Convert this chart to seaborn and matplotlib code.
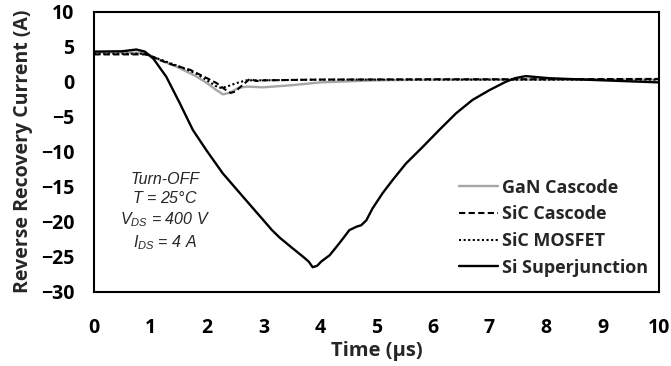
import matplotlib
matplotlib.use("Agg")
import matplotlib.pyplot as plt
import seaborn as sns
import pandas as pd

# Reverse recovery current waveforms at turn-off
t_gan = [0.0, 0.5, 0.9, 1.0, 1.2, 1.5, 1.8, 2.0, 2.15, 2.28, 2.4, 2.55, 2.7, 3.0, 3.5, 4.0, 5.0, 6.0, 8.0, 10.0]
i_gan = [4.2, 4.2, 4.1, 3.7, 3.0, 2.0, 0.8, -0.2, -1.1, -1.8, -1.6, -0.9, -0.7, -0.8, -0.5, -0.1, 0.2, 0.3, 0.3, 0.3]

t_sic_cas = [0.0, 0.5, 0.9, 1.0, 1.16, 1.4, 1.7, 2.0, 2.17, 2.3, 2.42, 2.5, 2.64, 2.76, 2.87, 3.0, 4.0, 6.0, 8.0, 10.0]
i_sic_cas = [3.9, 3.9, 3.9, 3.7, 3.1, 2.4, 1.7, 0.5, -0.2, -1.0, -1.6, -1.4, -0.4, 0.4, 0.1, 0.2, 0.3, 0.35, 0.35, 0.4]

t_sic_mos = [0.0, 0.5, 0.9, 1.0, 1.2, 1.5, 1.8, 2.0, 2.15, 2.25, 2.35, 2.52, 2.7, 3.0, 4.0, 6.0, 8.0, 10.0]
i_sic_mos = [4.0, 4.0, 4.0, 3.7, 3.1, 2.2, 1.2, 0.2, -0.6, -0.9, -0.7, -0.2, 0.2, 0.2, 0.3, 0.3, 0.3, 0.3]

t_si_sj = [0.0, 0.5, 0.75, 0.9, 1.05, 1.28, 1.52, 1.75, 1.99, 2.28, 2.58, 2.87, 3.0, 3.15, 3.29, 3.5, 3.70, 3.80,
           3.87, 3.95, 4.02, 4.17, 4.35, 4.52, 4.65, 4.73, 4.82, 4.93, 5.11, 5.29, 5.52, 5.82, 6.11, 6.41,
           6.70, 7.00, 7.29, 7.45, 7.64, 8.06, 9.0, 10.0]
i_si_sj = [4.3, 4.35, 4.6, 4.3, 3.3, 0.7, -3.1, -6.9, -9.8, -13.1, -15.9, -18.6, -19.8, -21.2, -22.3, -23.7, -25.0, -25.7,
           -26.5, -26.3, -25.7, -24.8, -23.0, -21.2, -20.7, -20.5, -19.8, -18.1, -15.9, -14.0, -11.7, -9.3, -6.9, -4.5,
           -2.6, -1.2, 0.0, 0.5, 0.8, 0.5, 0.2, -0.1]

series_names = ["GaN Cascode", "SiC Cascode", "SiC MOSFET", "Si Superjunction"]

x_ticks = list(range(0, 11))
y_ticks = list(range(-30, 11, 5))

sns.set_theme(style="white")
plt.rcParams["font.family"] = ["Open Sans", "DejaVu Sans"]
plt.rcParams["mathtext.fontset"] = "custom"
plt.rcParams["mathtext.it"] = "Liberation Sans:italic"
plt.rcParams["mathtext.rm"] = "Liberation Sans:italic"

frames = []
for name, t, i in zip(series_names,
                      [t_gan, t_sic_cas, t_sic_mos, t_si_sj],
                      [i_gan, i_sic_cas, i_sic_mos, i_si_sj]):
    frames.append(pd.DataFrame({"Time": t, "Current": i, "Device": name}))
df = pd.concat(frames, ignore_index=True)

fig = plt.figure(figsize=(6.71, 3.66), dpi=100)
ax = fig.add_axes([0.1401, 0.203, 0.842, 0.765])

styles = {
    "GaN Cascode": dict(color="#a6a6a6", linestyle="-", lw=1.7),
    "SiC Cascode": dict(color="black", linestyle=(0, (3, 1.6)), lw=1.5),
    "SiC MOSFET": dict(color="black", linestyle=(0, (1, 1.2)), lw=1.5),
    "Si Superjunction": dict(color="black", linestyle="-", lw=1.7),
}
for name in series_names:
    sub = df[df["Device"] == name]
    sns.lineplot(data=sub, x="Time", y="Current", ax=ax, label=name,
                 estimator=None, sort=False, **styles[name])

ax.set_xlim(0, 10)
ax.set_ylim(-30, 10)
ax.set_xticks(x_ticks)
ax.set_yticks(y_ticks)
ax.tick_params(axis="x", direction="in", length=5, width=1.5, pad=19,
               labelsize=14, colors="black")
ax.tick_params(axis="y", direction="in", length=5, width=1.5, pad=14,
               labelsize=14, colors="black")
for lab in ax.get_xticklabels() + ax.get_yticklabels():
    lab.set_fontweight("bold")
for sp in ax.spines.values():
    sp.set_color("black")
    sp.set_linewidth(1.5)

ax.set_xlabel("Time (µs)", fontsize=14.5, fontweight="bold", labelpad=2)
ax.set_ylabel("Reverse Recovery Current (A)", fontsize=14, fontweight="bold", labelpad=6)

ax.text(1.25, -18.6, "Turn-OFF\n$T$ = 25°C\n$V_{DS}$ = 400 V\n$I_{DS}$ = 4 A",
        family="Liberation Sans", style="italic", fontsize=11.5,
        ha="center", va="center", linespacing=1.3)

leg = ax.legend(loc="lower right", frameon=False, fontsize=13,
                handlelength=2.2, handletextpad=0.2, labelspacing=0.48,
                borderaxespad=0.2, bbox_to_anchor=(1.0, 0.015))
for txt in leg.get_texts():
    txt.set_fontweight("bold")

fig.savefig("out.png", dpi=100)
